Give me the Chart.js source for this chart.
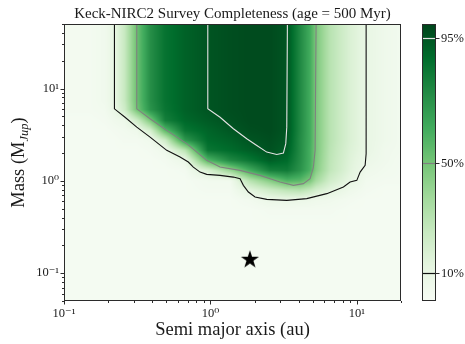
<!DOCTYPE html>
<html>
<head>
<meta charset="utf-8">
<script src="https://cdn.jsdelivr.net/npm/chart.js@4.4.1/dist/chart.umd.min.js"></script>
<style>
  html, body { margin: 0; padding: 0; background: #fff; }
</style>
</head>
<body>
<canvas id="chart" width="465" height="344"></canvas>
<script>
const serif = "'Liberation Serif', 'DejaVu Serif', serif";

// completeness map (percent), columns = semi major axis (au), rows = mass (Mjup) from top to bottom
const semiMajor = [0.1, 0.15, 0.19, 0.22, 0.26, 0.315, 0.39, 0.49, 0.67, 0.96, 1.36, 1.86, 2.55, 3.34, 4.1, 4.8, 5.26, 6.56, 9.0, 11.6, 15.6, 20];
const massGrid = [50, 7.4, 5.9, 4.5, 3.5, 2.75, 2.15, 1.67, 1.3, 1.0, 0.79, 0.62, 0.48, 0.33, 0.18, 0.05];
const completeness = [
  [3, 3, 5, 10, 25, 52, 74, 85, 91, 95, 97, 98, 98, 95, 76, 62, 48, 30, 17, 10, 6, 4],
  [3, 3, 5, 10, 25, 52, 74, 85, 91, 95, 97, 98, 98, 95, 76, 62, 48, 30, 17, 10, 6, 4],
  [3, 3, 4, 9, 22, 50, 72, 84, 91, 95, 97, 98, 98, 95, 76, 62, 48, 30, 17, 10, 6, 4],
  [2, 2, 3, 5, 7, 22, 48, 80, 89, 93, 96, 98, 98, 95, 76, 62, 48, 30, 17, 10, 6, 4],
  [2, 2, 2, 3, 4, 6, 20, 55, 84, 90, 94, 97, 98, 95, 76, 62, 48, 30, 17, 10, 6, 4],
  [2, 2, 2, 2, 3, 3, 5, 22, 70, 88, 91, 95, 97, 94, 75, 62, 48, 30, 17, 10, 6, 4],
  [2, 2, 2, 2, 2, 2, 3, 6, 30, 84, 88, 92, 96, 92, 75, 61, 48, 29, 16, 10, 5, 4],
  [2, 2, 2, 2, 2, 2, 2, 3, 8, 58, 76, 84, 92, 88, 74, 61, 47, 28, 15, 8, 5, 3],
  [2, 2, 2, 2, 2, 2, 2, 2, 3, 18, 40, 62, 80, 82, 72, 60, 45, 27, 14, 6, 4, 3],
  [2, 2, 2, 2, 2, 2, 2, 2, 2, 4, 4, 30, 45, 58, 56, 47, 36, 21, 11, 4, 3, 3],
  [2, 2, 2, 2, 2, 2, 2, 2, 2, 3, 3, 13, 22, 28, 30, 25, 20, 13, 6, 3, 2, 2],
  [2, 2, 2, 2, 2, 2, 2, 2, 2, 2, 2, 4, 8, 9, 8, 7, 6, 5, 3, 2, 2, 2],
  [2, 2, 2, 2, 2, 2, 2, 2, 2, 2, 2, 2, 3, 3, 3, 3, 3, 3, 2, 2, 2, 2],
  [2, 2, 2, 2, 2, 2, 2, 2, 2, 2, 2, 2, 2, 2, 2, 2, 2, 2, 2, 2, 2, 2],
  [2, 2, 2, 2, 2, 2, 2, 2, 2, 2, 2, 2, 2, 2, 2, 2, 2, 2, 2, 2, 2, 2],
  [2, 2, 2, 2, 2, 2, 2, 2, 2, 2, 2, 2, 2, 2, 2, 2, 2, 2, 2, 2, 2, 2]
];

// contour lines [au, Mjup]
const contour10 = [[0.221, 50], [0.221, 6.03], [0.261, 4.89], [0.314, 3.82], [0.387, 2.98], [0.503, 2.14], [0.62, 1.81], [0.706, 1.6], [0.764, 1.41], [0.849, 1.245], [0.943, 1.176], [1.163, 1.147], [1.434, 1.099], [1.593, 1.056], [1.678, 0.894], [1.815, 0.757], [2.016, 0.668], [2.424, 0.631], [3.32, 0.615], [4.548, 0.642], [6.229, 0.727], [8.087, 0.857], [8.986, 0.971], [9.985, 1.012], [10.52, 1.245], [11.38, 1.471], [11.56, 1.968], [11.56, 50]];
const contour50 = [[0.314, 50], [0.314, 6.03], [0.387, 4.7], [0.503, 3.52], [0.689, 2.53], [0.943, 1.67], [1.163, 1.41], [1.593, 1.3], [2.182, 1.147], [2.988, 0.971], [3.685, 0.894], [4.311, 0.933], [4.789, 1.056], [5.045, 1.41], [5.182, 2.14], [5.264, 50]];
const contour95 = [[0.959, 50], [0.959, 6.03], [1.163, 4.89], [1.434, 3.67], [1.77, 2.86], [2.072, 2.42], [2.424, 2.05], [2.838, 1.93], [3.148, 2.0], [3.268, 2.53], [3.32, 3.82], [3.352, 50]];
const contourLevels = [10, 50, 95];
const contourColors = ['#111111', '#808080', '#e4e4e4'];

const starPos = [[1.86, 0.14]];

const xMajor = [0.1, 1, 10];
const xMajorLabels = ['10⁻¹', '10⁰', '10¹'];
const yMajor = [0.1, 1, 10];
const yMajorLabels = ['10⁻¹', '10⁰', '10¹'];
const cbLabels = ['10%', '50%', '95%'];

// matplotlib Greens
const greens = ['#f7fcf5', '#e5f5e0', '#c7e9c0', '#a1d99b', '#74c476', '#41ab5d', '#238b45', '#006d2c', '#00441b']
  .map(h => [1, 3, 5].map(i => parseInt(h.slice(i, i + 2), 16)));
const colorFor = (v) => {
  const t = Math.min(Math.max(v / 100, 0), 1) * (greens.length - 1);
  const i = Math.min(Math.floor(t), greens.length - 2), f = t - i;
  return greens[i].map((c, k) => Math.round(c + (greens[i + 1][k] - c) * f));
};

//find cell index and fraction in a monotonic list
const locate = (arr, v) => {
  for (let i = 0; i < arr.length - 1; i++) {
    if ((v - arr[i]) * (v - arr[i + 1]) <= 0) return [i, (v - arr[i]) / (arr[i + 1] - arr[i])];
  }
  return Math.abs(v - arr[0]) < Math.abs(v - arr[arr.length - 1]) ? [0, 0] : [arr.length - 2, 1];
};

const heatmap = {
  id: 'heatmap',
  beforeDatasetsDraw(chart) {
    const { ctx, chartArea: area, scales: { x, y } } = chart;
    const w = Math.round(area.right - area.left), h = Math.round(area.bottom - area.top);
    const off = document.createElement('canvas');
    off.width = w; off.height = h;
    const octx = off.getContext('2d');
    const img = octx.createImageData(w, h);
    const la = semiMajor.map(Math.log10), lm = massGrid.map(Math.log10);
    const cols = [], rows = [];
    for (let i = 0; i < w; i++) cols.push(locate(la, Math.log10(x.getValueForPixel(area.left + i + 0.5))));
    for (let j = 0; j < h; j++) rows.push(locate(lm, Math.log10(y.getValueForPixel(area.top + j + 0.5))));
    for (let j = 0; j < h; j++) {
      const [r, fr] = rows[j];
      for (let i = 0; i < w; i++) {
        const [c, fc] = cols[i];
        const top = completeness[r][c] * (1 - fc) + completeness[r][c + 1] * fc;
        const bot = completeness[r + 1][c] * (1 - fc) + completeness[r + 1][c + 1] * fc;
        const rgb = colorFor(top * (1 - fr) + bot * fr);
        const p = (j * w + i) * 4;
        img.data[p] = rgb[0]; img.data[p + 1] = rgb[1]; img.data[p + 2] = rgb[2]; img.data[p + 3] = 255;
      }
    }
    octx.putImageData(img, 0, 0);
    ctx.drawImage(off, area.left, area.top, w, h);
  }
};

const decorations = {
  id: 'decorations',
  afterDraw(chart) {
    const { ctx, chartArea: a, scales: { x, y, cb } } = chart;
    ctx.save();
    ctx.strokeStyle = '#2b2b2b';
    ctx.lineWidth = 1;
    //axis ticks, outward
    ctx.beginPath();
    x.ticks.forEach(t => {
      const px = Math.round(x.getPixelForValue(t.value)) + 0.5;
      const len = xMajor.includes(t.value) ? 3.5 : 2;
      ctx.moveTo(px, a.bottom); ctx.lineTo(px, a.bottom + len);
    });
    y.ticks.forEach(t => {
      const py = Math.round(y.getPixelForValue(t.value)) + 0.5;
      const len = yMajor.includes(t.value) ? 3.5 : 2;
      ctx.moveTo(a.left, py); ctx.lineTo(a.left - len, py);
    });
    ctx.stroke();
    ctx.strokeRect(a.left + 0.5, a.top + 0.5, a.right - a.left - 1, a.bottom - a.top - 1);

    //colorbar
    const cbL = 422, cbR = 436;
    const yTop = cb.getPixelForValue(100), yBot = cb.getPixelForValue(0);
    for (let py = Math.floor(yTop); py < yBot; py++) {
      const rgb = colorFor(cb.getValueForPixel(py + 0.5));
      ctx.fillStyle = `rgb(${rgb.join(',')})`;
      ctx.fillRect(cbL, py, cbR - cbL, 1);
    }
    contourLevels.forEach((lv, i) => {
      const py = Math.round(cb.getPixelForValue(lv)) + 0.5;
      ctx.strokeStyle = contourColors[i];
      ctx.lineWidth = 1.2;
      ctx.beginPath(); ctx.moveTo(cbL, py); ctx.lineTo(cbR, py); ctx.stroke();
      ctx.strokeStyle = '#2b2b2b';
      ctx.lineWidth = 1;
      ctx.beginPath(); ctx.moveTo(cbR, py); ctx.lineTo(cbR + 3.5, py); ctx.stroke();
      ctx.fillStyle = '#1a1a1a';
      ctx.font = `12.5px ${serif}`;
      ctx.textAlign = 'left'; ctx.textBaseline = 'middle';
      ctx.fillText(cbLabels[i], cbR + 5, py);
    });
    ctx.strokeStyle = '#2b2b2b';
    ctx.strokeRect(cbL + 0.5, Math.round(yTop) + 0.5, cbR - cbL - 1, Math.round(yBot - yTop) - 1);

    //title and axis labels
    ctx.fillStyle = '#1a1a1a';
    ctx.textAlign = 'center'; ctx.textBaseline = 'alphabetic';
    ctx.font = `15px ${serif}`;
    ctx.fillText('Keck-NIRC2 Survey Completeness (age = 500 Myr)', (a.left + a.right) / 2, 18);
    ctx.font = `18.5px ${serif}`;
    ctx.fillText('Semi major axis (au)', (a.left + a.right) / 2, 335);

    ctx.translate(24, (a.top + a.bottom) / 2);
    ctx.rotate(-Math.PI / 2);
    const big = `18.5px ${serif}`, sub = `italic 12.5px ${serif}`;
    ctx.font = big; const w1 = ctx.measureText('Mass (M').width, w3 = ctx.measureText(')').width;
    ctx.font = sub; const w2 = ctx.measureText('Jup').width;
    let sx = -(w1 + w2 + w3) / 2;
    ctx.textAlign = 'left';
    ctx.font = big; ctx.fillText('Mass (M', sx, 0); sx += w1;
    ctx.font = sub; ctx.fillText('Jup', sx, 4); sx += w2;
    ctx.font = big; ctx.fillText(')', sx, 0);
    ctx.restore();
  }
};

// five-pointed star marker
const starMarker = document.createElement('canvas');
starMarker.width = 20; starMarker.height = 20;
(() => {
  const s = starMarker.getContext('2d');
  s.beginPath();
  for (let k = 0; k < 10; k++) {
    const r = k % 2 === 0 ? 9.5 : 9.5 * 0.382;
    const ang = -Math.PI / 2 + k * Math.PI / 5;
    s.lineTo(10 + r * Math.cos(ang), 10 + r * Math.sin(ang));
  }
  s.closePath();
  s.fillStyle = '#000';
  s.fill();
})();

const logTicks = (lo, hi) => {
  const out = [];
  for (let e = -2; e <= 2; e++) for (let m = 1; m <= 9; m++) {
    const v = +(m * Math.pow(10, e)).toPrecision(3);
    if (v >= lo - 1e-9 && v <= hi + 1e-9) out.push({ value: v });
  }
  return out;
};

const lineSet = (pts, color) => ({
  data: pts.map(p => ({ x: p[0], y: p[1] })),
  showLine: true, borderColor: color, borderWidth: 1.1,
  pointRadius: 0, fill: false, tension: 0
});

new Chart(document.getElementById('chart'), {
  type: 'scatter',
  data: {
    datasets: [
      lineSet(contour10, contourColors[0]),
      lineSet(contour50, contourColors[1]),
      lineSet(contour95, contourColors[2]),
      {
        data: starPos.map(p => ({ x: p[0], y: p[1] })),
        pointStyle: starMarker, pointRadius: 10, showLine: false
      }
    ]
  },
  options: {
    responsive: false,
    animation: false,
    layout: { padding: { left: 0, top: 24, right: 64, bottom: 0 } },
    plugins: { legend: { display: false }, tooltip: { enabled: false } },
    scales: {
      x: {
        type: 'logarithmic', min: 0.1, max: 20,
        afterFit: (s) => { s.height = 43; },
        afterBuildTicks: (s) => { s.ticks = logTicks(0.1, 20); },
        grid: { drawOnChartArea: false, drawTicks: true, tickLength: 4, tickColor: 'rgba(0,0,0,0)' },
        border: { display: false },
        ticks: {
          autoSkip: false, maxRotation: 0, padding: 1, color: '#1a1a1a',
          font: { family: serif, size: 12.5 },
          callback: (v) => { const i = xMajor.indexOf(v); return i < 0 ? '' : xMajorLabels[i]; }
        }
      },
      y: {
        type: 'logarithmic', min: 0.05, max: 50,
        afterFit: (s) => { s.width = 64; },
        afterBuildTicks: (s) => { s.ticks = logTicks(0.05, 50); },
        grid: { drawOnChartArea: false, drawTicks: true, tickLength: 4, tickColor: 'rgba(0,0,0,0)' },
        border: { display: false },
        ticks: {
          autoSkip: false, padding: 1, color: '#1a1a1a',
          font: { family: serif, size: 12.5 },
          callback: (v) => { const i = yMajor.indexOf(v); return i < 0 ? '' : yMajorLabels[i]; }
        }
      },
      cb: { type: 'linear', display: false, min: 0, max: 100, position: 'right' }
    }
  },
  plugins: [heatmap, decorations]
});
</script>
</body>
</html>
